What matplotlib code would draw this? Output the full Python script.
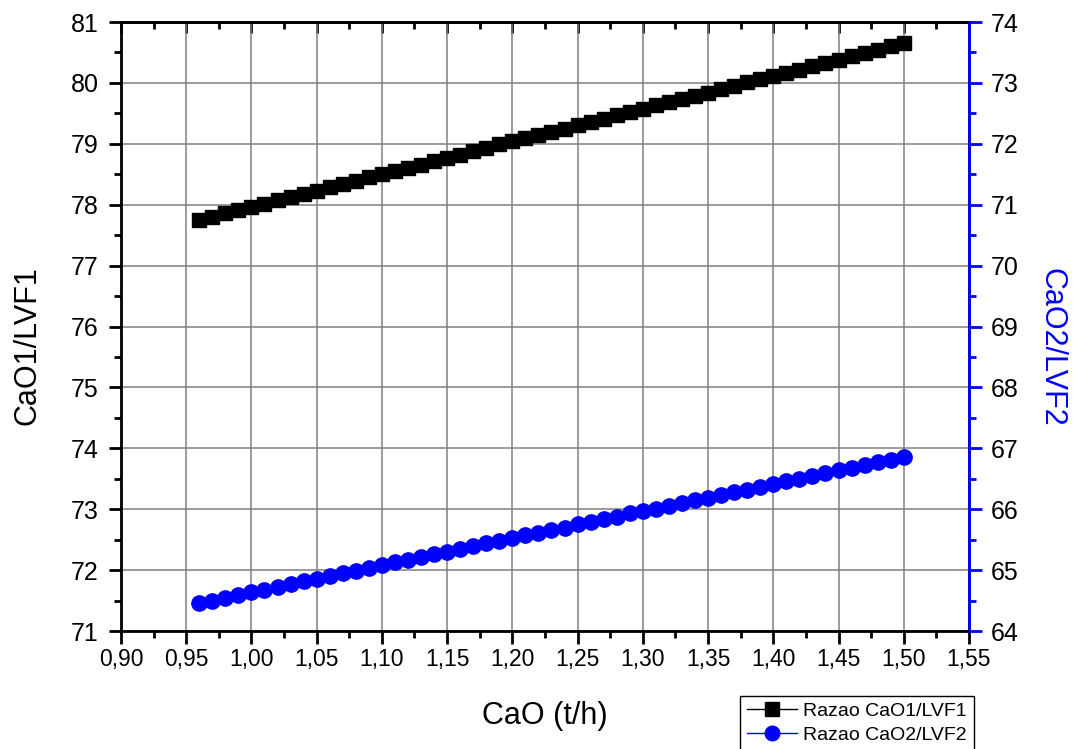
import matplotlib.pyplot as plt
from matplotlib.ticker import MultipleLocator, FuncFormatter
from matplotlib.lines import Line2D
from matplotlib.patches import Rectangle

plt.rcParams['font.family'] = ['Liberation Sans', 'DejaVu Sans']

# CaO feed (t/h)
cao = [0.96, 0.97, 0.98, 0.99, 1.00, 1.01, 1.02, 1.03, 1.04, 1.05,
       1.06, 1.07, 1.08, 1.09, 1.10, 1.11, 1.12, 1.13, 1.14, 1.15,
       1.16, 1.17, 1.18, 1.19, 1.20, 1.21, 1.22, 1.23, 1.24, 1.25,
       1.26, 1.27, 1.28, 1.29, 1.30, 1.31, 1.32, 1.33, 1.34, 1.35,
       1.36, 1.37, 1.38, 1.39, 1.40, 1.41, 1.42, 1.43, 1.44, 1.45,
       1.46, 1.47, 1.48, 1.49, 1.50]

# ratio CaO1/LVF1 (left axis)
razao1 = [77.75, 77.80, 77.86, 77.91, 77.96, 78.02, 78.07, 78.13, 78.18, 78.23,
          78.29, 78.34, 78.39, 78.45, 78.50, 78.56, 78.61, 78.66, 78.72, 78.77,
          78.82, 78.88, 78.93, 78.99, 79.04, 79.09, 79.15, 79.20, 79.25, 79.31,
          79.36, 79.41, 79.47, 79.52, 79.58, 79.63, 79.68, 79.74, 79.79, 79.84,
          79.90, 79.95, 80.01, 80.06, 80.11, 80.17, 80.22, 80.27, 80.33, 80.38,
          80.44, 80.49, 80.54, 80.60, 80.65]

# ratio CaO2/LVF2 (right axis)
razao2 = [64.46, 64.50, 64.55, 64.59, 64.64, 64.68, 64.73, 64.77, 64.82, 64.86,
          64.90, 64.95, 64.99, 65.04, 65.08, 65.13, 65.17, 65.21, 65.26, 65.30,
          65.35, 65.39, 65.44, 65.48, 65.53, 65.57, 65.61, 65.66, 65.70, 65.75,
          65.79, 65.84, 65.88, 65.93, 65.97, 66.01, 66.06, 66.10, 66.15, 66.19,
          66.24, 66.28, 66.32, 66.37, 66.41, 66.46, 66.50, 66.55, 66.59, 66.64,
          66.68, 66.72, 66.77, 66.81, 66.86]

lbl1 = "Razao CaO1/LVF1"
lbl2 = "Razao CaO2/LVF2"

fig = plt.figure(figsize=(10.77, 7.49), dpi=100)
ax = fig.add_axes([0.1123, 0.1575, 0.7874, 0.8131])
ax2 = ax.twinx()

ax.plot(cao, razao1, color='black', lw=1, marker='s', ms=10.5, zorder=3)
ax2.plot(cao, razao2, color='blue', lw=1, marker='o', ms=11, zorder=3)

ax.set_xlim(0.90, 1.55)
ax.set_ylim(71, 81)
ax2.set_ylim(64, 74)

comma = FuncFormatter(lambda v, p: f"{v:.2f}".replace('.', ','))
ax.xaxis.set_major_locator(MultipleLocator(0.05))
ax.xaxis.set_minor_locator(MultipleLocator(0.025))
ax.xaxis.set_major_formatter(comma)
ax.yaxis.set_major_locator(MultipleLocator(1))
ax.yaxis.set_minor_locator(MultipleLocator(0.5))
ax2.yaxis.set_major_locator(MultipleLocator(1))
ax2.yaxis.set_minor_locator(MultipleLocator(0.5))

ax.grid(True, which='major', color='#808080', lw=1.1)
ax.set_axisbelow(True)

for s in ax.spines.values():
    s.set_linewidth(2)
ax2.spines['right'].set_color('blue')
ax2.spines['right'].set_linewidth(2)

ax.tick_params(which='both', direction='out', width=2, right=False)
ax.tick_params(axis='x', labelsize=16.5)
ax.tick_params(axis='y', labelsize=18, pad=7)
ax.tick_params(which='major', length=9)
ax.tick_params(which='minor', length=5)
ax2.tick_params(which='both', direction='out', width=2, colors='blue',
                labelcolor='black', labelsize=18, pad=7)
ax2.tick_params(which='major', length=9)
ax2.tick_params(which='minor', length=5)

# inward ticks along the top edge
top = ax.secondary_xaxis('top')
top.xaxis.set_major_locator(MultipleLocator(0.05))
top.xaxis.set_minor_locator(MultipleLocator(0.025))
top.tick_params(which='both', direction='in', width=2, labeltop=False)
top.tick_params(which='major', length=8)
top.tick_params(which='minor', length=5)
top.spines['top'].set_linewidth(2)

ax.set_xlabel("CaO (t/h)", fontsize=22)
ax.xaxis.set_label_coords(0.5, -0.115)
ax.set_ylabel("CaO1/LVF1", fontsize=22)
ax.yaxis.set_label_coords(-0.092, 0.468)
ax2.set_ylabel("CaO2/LVF2", fontsize=22, color='blue', rotation=-90, va='bottom')
ax2.yaxis.set_label_coords(1.080, 0.466)

handles = [Line2D([], [], color='black', lw=1, marker='s', ms=10),
           Line2D([], [], color='blue', lw=1, marker='o', ms=10.5)]
leg = fig.legend(handles, [lbl1, lbl2], loc='upper left',
                 bbox_to_anchor=(0.687, 0.071), fontsize=14,
                 fancybox=False, edgecolor='black', framealpha=1,
                 handlelength=2.6, handletextpad=0.3, labelspacing=0.3,
                 borderpad=0.35, borderaxespad=0)
leg.get_frame().set_linewidth(1)

# selection box round the first legend entry
fig.add_artist(Rectangle((0.698, 0.0387), 0.0436, 0.0307, transform=fig.transFigure,
                         fill=False, edgecolor='red', lw=1))

fig.savefig("out.png", dpi=100)
